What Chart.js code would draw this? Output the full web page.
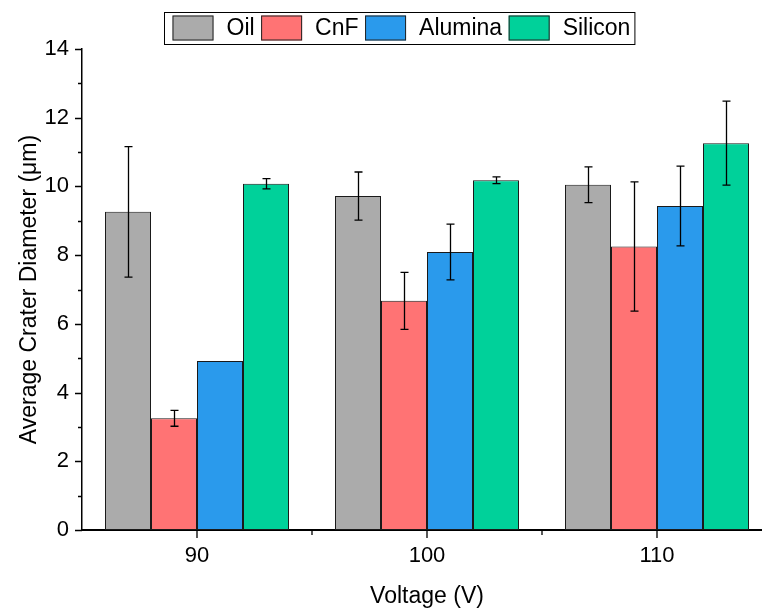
<!DOCTYPE html>
<html>
<head>
<meta charset="utf-8">
<script src="https://cdn.jsdelivr.net/npm/chart.js@4"></script>
<style>
  html, body { margin: 0; padding: 0; background: #fff; overflow: hidden; }
  /* plot runs a little past the right edge, like the exported figure */
  #wrap { width: 772px; height: 610px; position: relative; }
</style>
</head>
<body>
<div id="wrap"><canvas id="craterChart"></canvas></div>
<script>
const FONT = '"Liberation Sans", Arial, sans-serif';

// Data
const voltages = ['90', '100', '110'];
const seriesNames = ['Oil', 'CnF', 'Alumina', 'Silicon'];
const seriesColors = ['#ABABAB', '#FF7374', '#2A9AEC', '#00D19A'];

const oilMean = [9.26, 9.72, 10.05];
const oilErr = [1.90, 0.70, 0.52];
const cnfMean = [3.25, 6.67, 8.25];
const cnfErr = [0.23, 0.83, 1.88];
const aluminaMean = [4.92, 8.09, 9.43];
const aluminaErr = [null, 0.81, 1.16];
const siliconMean = [10.08, 10.18, 11.26];
const siliconErr = [0.15, 0.10, 1.22];

const yMin = 0, yMax = 14, yStep = 2;

const means = [oilMean, cnfMean, aluminaMean, siliconMean];
const errs = [oilErr, cnfErr, aluminaErr, siliconErr];

// Outward tick marks: major at labels, minor halfway between
const axisTicks = {
    id: 'axisTicks',
    afterDraw(chart) {
        const { ctx, chartArea, scales: { x, y } } = chart;
        ctx.save();
        ctx.strokeStyle = '#000';
        ctx.lineWidth = 1.3;
        ctx.beginPath();
        for (let v = yMin; v <= yMax; v += yStep / 2) {
            const py = Math.round(y.getPixelForValue(v)) + 0.5;
            const len = (v % yStep === 0) ? 7 : 4;
            ctx.moveTo(chartArea.left - len, py);
            ctx.lineTo(chartArea.left, py);
        }
        for (let i = 0; i < voltages.length; i++) {
            const px = x.getPixelForValue(i);
            ctx.moveTo(px, chartArea.bottom);
            ctx.lineTo(px, chartArea.bottom + 8);
            if (i < voltages.length - 1) {
                const mid = (px + x.getPixelForValue(i + 1)) / 2;
                ctx.moveTo(mid, chartArea.bottom);
                ctx.lineTo(mid, chartArea.bottom + 5);
            }
        }
        ctx.stroke();
        ctx.restore();
    }
};

// Error bars (± value) on top of each bar
const errorBars = {
    id: 'errorBars',
    afterDatasetsDraw(chart) {
        const { ctx, scales: { y } } = chart;
        ctx.save();
        ctx.strokeStyle = '#000';
        ctx.lineWidth = 1.3;
        chart.data.datasets.forEach((ds, di) => {
            const meta = chart.getDatasetMeta(di);
            meta.data.forEach((bar, i) => {
                const e = ds.errors[i];
                if (e == null) return;
                const v = ds.data[i];
                const top = y.getPixelForValue(v + e);
                const bot = y.getPixelForValue(v - e);
                const cx = Math.round(bar.x) + 0.5;
                ctx.beginPath();
                ctx.moveTo(cx, top); ctx.lineTo(cx, bot);
                ctx.moveTo(cx - 4, top); ctx.lineTo(cx + 4, top);
                ctx.moveTo(cx - 4, bot); ctx.lineTo(cx + 4, bot);
                ctx.stroke();
            });
        });
        ctx.restore();
    }
};

// Framed legend row above the plot
const legendBox = {
    id: 'legendBox',
    afterDraw(chart) {
        const ctx = chart.ctx;
        ctx.save();
        ctx.font = '23px ' + FONT;
        const sw = 41, sh = 25, gap = 13, itemGap = 6.5, padL = 8.5, padR = 4;
        const left = 164, top = 12, h = 32;
        const items = chart.data.datasets.map(ds => ({
            label: ds.label, color: ds.backgroundColor, w: ctx.measureText(ds.label).width
        }));
        let width = padL + padR + itemGap * (items.length - 1);
        items.forEach(it => { width += sw + gap + it.w; });

        ctx.fillStyle = '#fff';
        ctx.fillRect(left, top, width, h);
        ctx.strokeStyle = '#000';
        ctx.lineWidth = 1;
        ctx.strokeRect(left + 0.5, top + 0.5, width, h);

        let cx = left + padL;
        const cy = top + h / 2;
        items.forEach(it => {
            ctx.fillStyle = it.color;
            ctx.fillRect(cx, cy - sh / 2, sw, sh);
            ctx.strokeStyle = '#222';
            ctx.strokeRect(cx + 0.5, cy - sh / 2 + 0.5, sw - 1, sh - 1);
            ctx.fillStyle = '#000';
            ctx.textBaseline = 'middle';
            ctx.fillText(it.label, cx + sw + gap, cy + 1);
            cx += sw + gap + it.w + itemGap;
        });
        ctx.restore();
    }
};

const datasets = seriesNames.map((name, i) => ({
    label: name,
    data: means[i],
    errors: errs[i],
    backgroundColor: seriesColors[i],
    borderColor: '#1a1a1a',
    borderWidth: 1,
    borderSkipped: false,
    categoryPercentage: 0.8,
    barPercentage: 1.0
}));

const ctx = document.getElementById('craterChart').getContext('2d');
new Chart(ctx, {
    type: 'bar',
    data: { labels: voltages, datasets: datasets },
    options: {
        responsive: true,
        maintainAspectRatio: false,
        animation: false,
        layout: { padding: { top: 49, right: 0, bottom: 0, left: 0 } },
        plugins: {
            legend: { display: false },
            tooltip: { enabled: false }
        },
        scales: {
            x: {
                offset: true,
                grid: { display: false, drawTicks: false },
                border: { display: true, color: '#000', width: 2 },
                ticks: { color: '#000', padding: 13, font: { family: FONT, size: 22 } },
                title: {
                    display: true, text: 'Voltage (V)', color: '#000',
                    padding: { top: 0, bottom: 0 },
                    font: { family: FONT, size: 23 }
                },
                afterFit: s => { s.height = 80; }
            },
            y: {
                min: yMin, max: yMax,
                grid: { display: false, drawTicks: false },
                border: { display: true, color: '#000', width: 1.5 },
                ticks: { stepSize: yStep, color: '#000', padding: 13, font: { family: FONT, size: 22 } },
                title: {
                    display: true, text: 'Average Crater Diameter (\u03BCm)', color: '#000',
                    padding: { top: 16, bottom: 0 },
                    font: { family: FONT, size: 23 }
                },
                afterFit: s => { s.width = 82; }
            }
        }
    },
    plugins: [errorBars, axisTicks, legendBox]
});
</script>
</body>
</html>
